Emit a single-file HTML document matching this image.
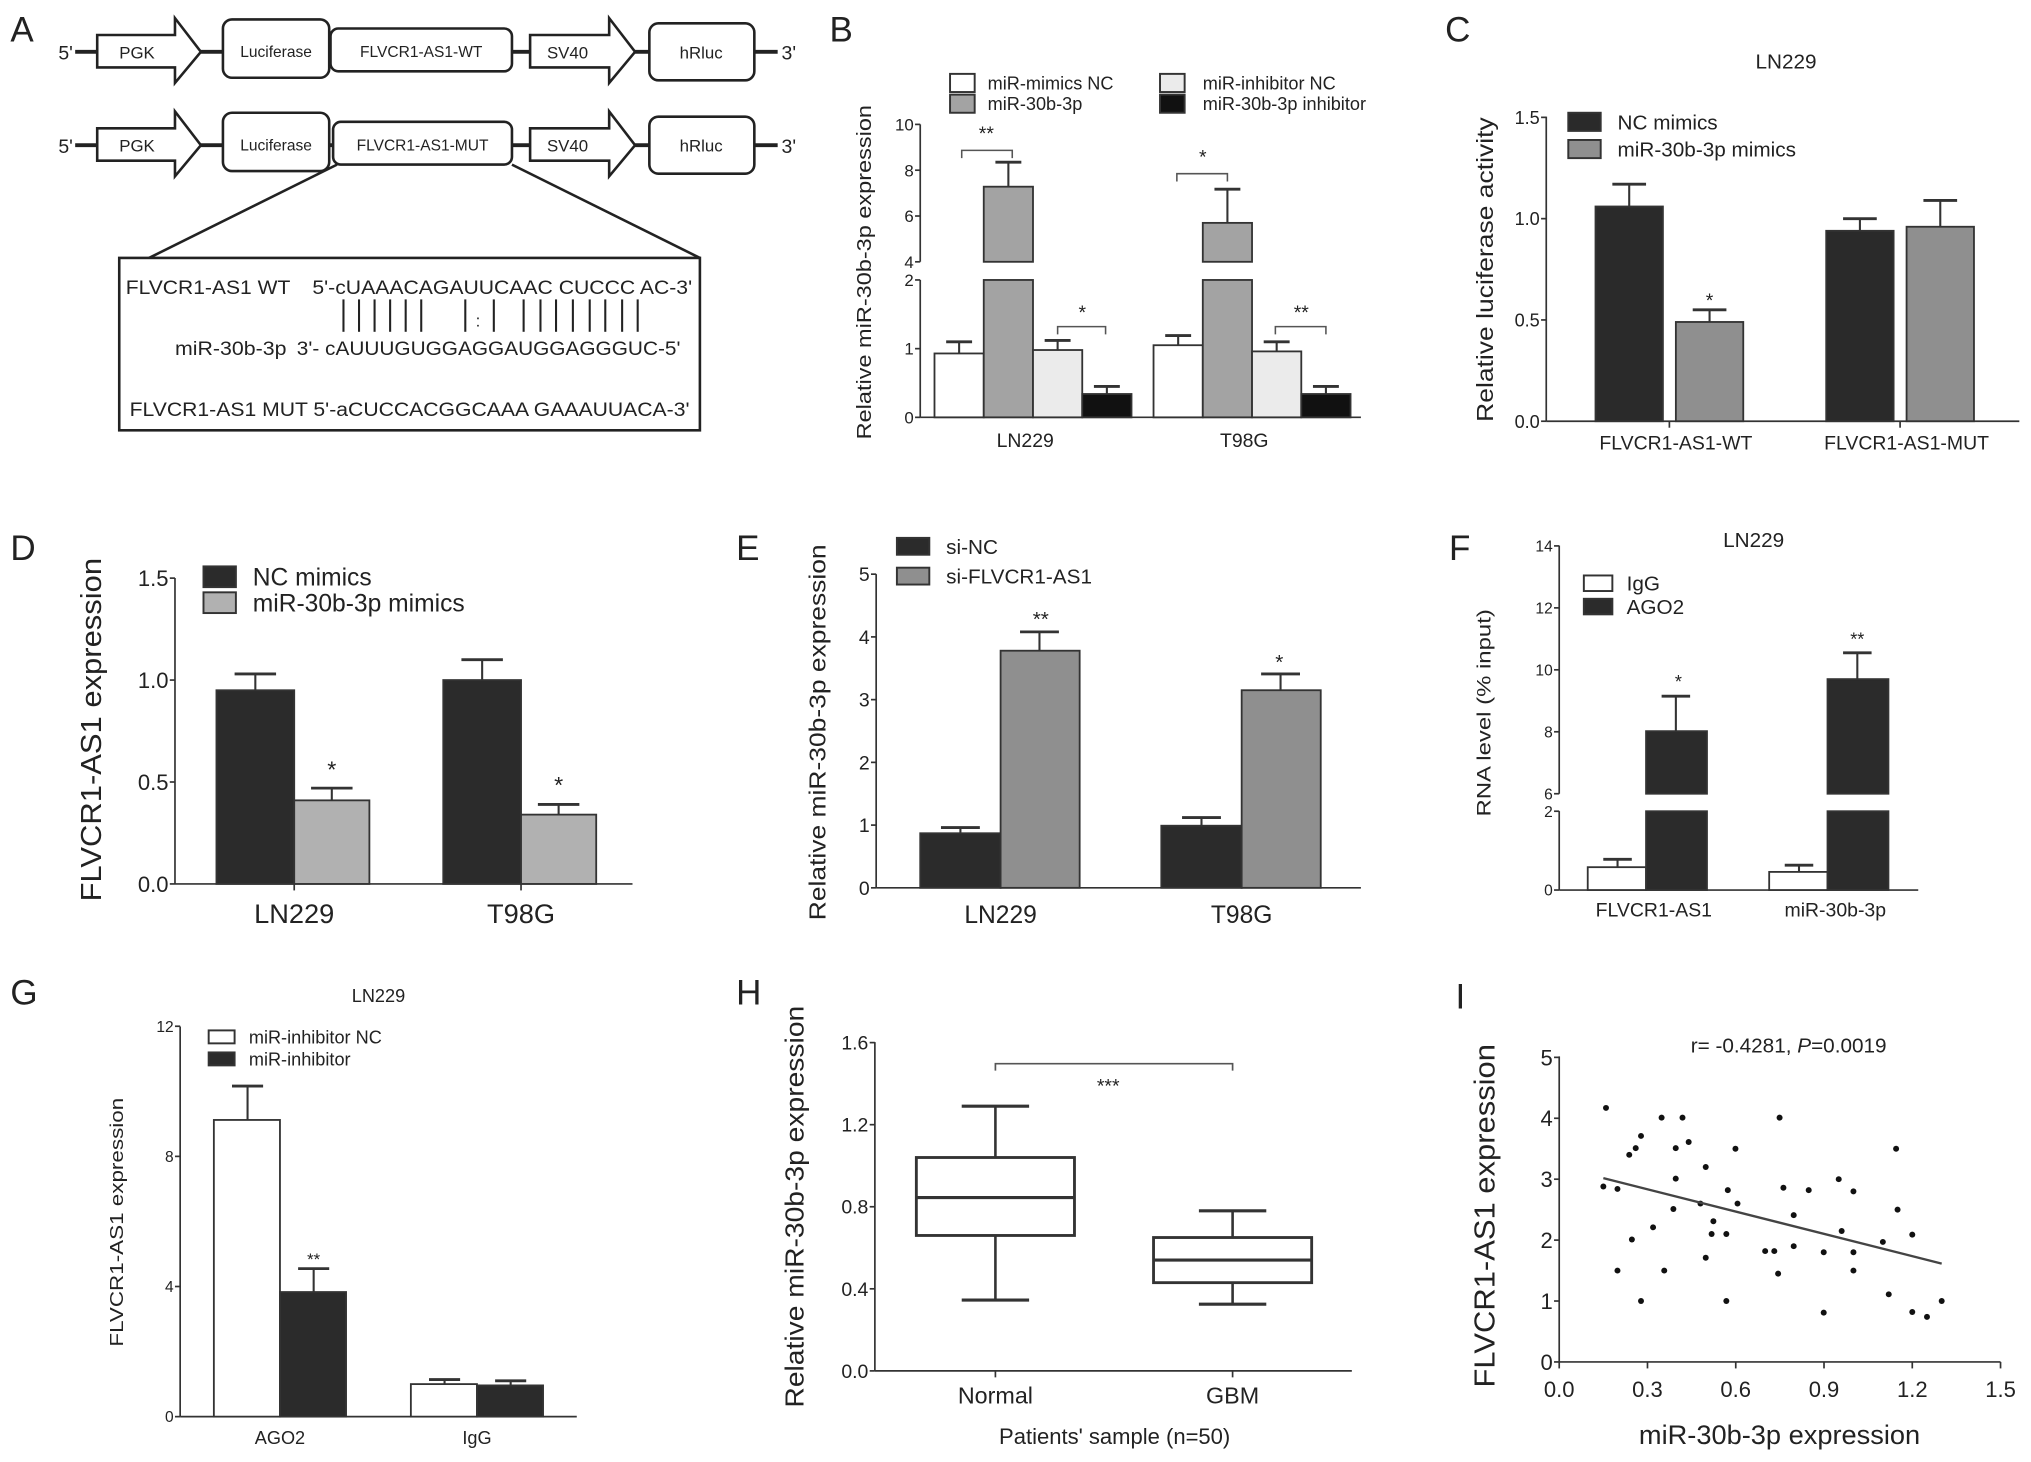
<!DOCTYPE html>
<html><head><meta charset="utf-8">
<style>
html,body{margin:0;padding:0;background:#fff;}
svg{display:block;}
text{font-family:"Liberation Sans",Arial,sans-serif;fill:#222;}
</style></head>
<body>
<svg id="fig" xmlns="http://www.w3.org/2000/svg" width="2031" height="1462" viewBox="0 0 1567 1128" preserveAspectRatio="none">
<rect x="0" y="0" width="1567" height="1128" fill="#fff"/>
<!-- Panel A -->
<g stroke="#222" fill="#fff">
  <text x="8" y="32" font-size="27" stroke="none" fill="#111">A</text>
  <g>
    <text x="45" y="46" font-size="15" stroke="none" fill="#333">5'</text>
    <line x1="58" y1="40" x2="600" y2="40" stroke-width="3"/>
    <path d="M75,27 L135,27 L135,14 L155,40 L135,64 L135,52 L75,52 Z" stroke-width="2"/>
    <text x="92" y="45" font-size="13" stroke="none" fill="#666">PGK</text>
    <rect x="172" y="15" width="82" height="45" rx="7" stroke-width="2"/>
    <text x="213" y="44" font-size="12" text-anchor="middle" stroke="none" fill="#666">Luciferase</text>
    <rect x="255" y="22" width="140" height="33" rx="6" stroke-width="2"/>
    <text x="325" y="44" font-size="12" text-anchor="middle" stroke="none" fill="#666">FLVCR1-AS1-WT</text>
    <path d="M409,27 L470,27 L470,14 L490,40 L470,64 L470,52 L409,52 Z" stroke-width="2"/>
    <text x="422" y="45" font-size="13" stroke="none" fill="#666">SV40</text>
    <rect x="501" y="18" width="81" height="44" rx="7" stroke-width="2"/>
    <text x="541" y="45" font-size="13" text-anchor="middle" stroke="none" fill="#666">hRluc</text>
    <text x="603" y="46" font-size="15" stroke="none" fill="#333">3'</text>
  </g>
  <g transform="translate(0,72)">
    <text x="45" y="46" font-size="15" stroke="none" fill="#333">5'</text>
    <line x1="58" y1="40" x2="600" y2="40" stroke-width="3"/>
    <path d="M75,27 L135,27 L135,14 L155,40 L135,64 L135,52 L75,52 Z" stroke-width="2"/>
    <text x="92" y="45" font-size="13" stroke="none" fill="#666">PGK</text>
    <rect x="172" y="15" width="82" height="45" rx="7" stroke-width="2"/>
    <text x="213" y="44" font-size="12" text-anchor="middle" stroke="none" fill="#666">Luciferase</text>
    <rect x="257" y="22" width="138" height="33" rx="6" stroke-width="2"/>
    <text x="326" y="44" font-size="12" text-anchor="middle" stroke="none" fill="#666">FLVCR1-AS1-MUT</text>
    <path d="M409,27 L470,27 L470,14 L490,40 L470,64 L470,52 L409,52 Z" stroke-width="2"/>
    <text x="422" y="45" font-size="13" stroke="none" fill="#666">SV40</text>
    <rect x="501" y="18" width="81" height="44" rx="7" stroke-width="2"/>
    <text x="541" y="45" font-size="13" text-anchor="middle" stroke="none" fill="#666">hRluc</text>
    <text x="603" y="46" font-size="15" stroke="none" fill="#333">3'</text>
  </g>
  <line x1="260" y1="127" x2="115" y2="199" stroke-width="2"/>
  <line x1="395" y1="127" x2="540" y2="199" stroke-width="2"/>
  <rect x="92" y="199" width="448" height="133" stroke-width="2"/>
  <g stroke="none" fill="#222" font-size="15">
    <text x="97" y="227" textLength="127" lengthAdjust="spacingAndGlyphs">FLVCR1-AS1 WT</text>
    <text x="241" y="227" textLength="293" lengthAdjust="spacingAndGlyphs">5'-cUAAACAGAUUCAAC CUCCC AC-3'</text>
    <text x="135" y="274" textLength="86" lengthAdjust="spacingAndGlyphs">miR-30b-3p</text>
    <text x="229" y="274" textLength="296" lengthAdjust="spacingAndGlyphs">3'- cAUUUGUGGAGGAUGGAGGGUC-5'</text>
    <text x="100" y="321" textLength="432" lengthAdjust="spacingAndGlyphs">FLVCR1-AS1 MUT 5'-aCUCCACGGCAAA GAAAUUACA-3'</text>
    <text x="367" y="252" font-size="13">:</text>
  </g>
  <g stroke-width="1.6">
    <line x1="265" y1="231" x2="265" y2="256"/><line x1="277" y1="231" x2="277" y2="256"/>
    <line x1="289" y1="231" x2="289" y2="256"/><line x1="301" y1="231" x2="301" y2="256"/>
    <line x1="313" y1="231" x2="313" y2="256"/><line x1="325" y1="231" x2="325" y2="256"/>
    <line x1="359" y1="231" x2="359" y2="256"/><line x1="381" y1="231" x2="381" y2="256"/>
    <line x1="404" y1="231" x2="404" y2="256"/><line x1="417" y1="231" x2="417" y2="256"/>
    <line x1="429" y1="231" x2="429" y2="256"/><line x1="442" y1="231" x2="442" y2="256"/>
    <line x1="455" y1="231" x2="455" y2="256"/><line x1="467" y1="231" x2="467" y2="256"/>
    <line x1="480" y1="231" x2="480" y2="256"/><line x1="492" y1="231" x2="492" y2="256"/>
  </g>
</g>
<g id="charts"></g>
</svg>
<script>
// ---------- DATA ----------
const bCategories = ['LN229', 'T98G'];
const bSeriesNames = ['miR-mimics NC', 'miR-30b-3p', 'miR-inhibitor NC', 'miR-30b-3p inhibitor'];
const bMimicsNC = [0.93, 1.05];
const bMimicsNCErr = [0.17, 0.14];
const bMimic = [7.28, 5.7];
const bMimicErr = [1.07, 1.47];
const bInhNC = [0.98, 0.96];
const bInhNCErr = [0.14, 0.14];
const bInh = [0.34, 0.34];
const bInhErr = [0.11, 0.11];
const bLowTicks = [0, 1, 2];
const bHighTicks = [4, 6, 8, 10];

const cCategories = ['FLVCR1-AS1-WT', 'FLVCR1-AS1-MUT'];
const cNC = [1.06, 0.94];
const cNCErr = [0.11, 0.06];
const cMimic = [0.49, 0.96];
const cMimicErr = [0.06, 0.13];
const cTicks = [0, 0.5, 1.0, 1.5];
const cTickLabels = ['0.0', '0.5', '1.0', '1.5'];

const dCategories = ['LN229', 'T98G'];
const dNC = [0.95, 1.0];
const dNCErr = [0.08, 0.1];
const dMimic = [0.41, 0.34];
const dMimicErr = [0.06, 0.05];
const dTicks = [0, 0.5, 1.0, 1.5];
const dTickLabels = ['0.0', '0.5', '1.0', '1.5'];

const eCategories = ['LN229', 'T98G'];
const eSiNC = [0.87, 0.99];
const eSiNCErr = [0.09, 0.13];
const eSiF = [3.78, 3.15];
const eSiFErr = [0.3, 0.26];
const eTicks = [0, 1, 2, 3, 4, 5];

const fCategories = ['FLVCR1-AS1', 'miR-30b-3p'];
const fIgG = [0.58, 0.46];
const fIgGErr = [0.2, 0.17];
const fAGO2 = [8.02, 9.7];
const fAGO2Err = [1.13, 0.85];
const fLowTicks = [0, 2];
const fHighTicks = [6, 8, 10, 12, 14];

const gCategories = ['AGO2', 'IgG'];
const gInhNC = [9.12, 1.0];
const gInhNCErr = [1.04, 0.14];
const gInh = [3.83, 0.96];
const gInhErr = [0.72, 0.14];
const gTicks = [0, 4, 8, 12];

const hCategories = ['Normal', 'GBM'];
const hMin = [0.345, 0.325];
const hQ1 = [0.66, 0.43];
const hMedian = [0.845, 0.54];
const hQ3 = [1.04, 0.65];
const hMax = [1.29, 0.78];
const hTicks = [0, 0.4, 0.8, 1.2, 1.6];
const hTickLabels = ['0.0', '0.4', '0.8', '1.2', '1.6'];

const iX = [0.159,0.15,0.198,0.238,0.26,0.278,0.247,0.198,0.278,0.319,0.348,0.357,0.419,0.44,0.396,0.396,0.388,0.48,0.498,0.498,0.518,0.524,0.568,0.568,0.573,0.599,0.606,0.70,0.731,0.744,0.749,0.762,0.797,0.797,0.848,0.899,0.899,0.95,0.96,1.0,1.0,1.0,1.10,1.12,1.145,1.15,1.20,1.20,1.25,1.30];
const iY = [4.17,2.88,2.84,3.40,3.51,3.71,2.01,1.50,1.0,2.21,4.01,1.50,4.01,3.61,3.51,3.01,2.51,2.6,3.2,1.71,2.1,2.31,2.1,1.0,2.82,3.5,2.6,1.82,1.82,1.45,4.01,2.86,2.41,1.9,2.82,1.80,0.81,3.0,2.15,2.8,1.8,1.5,1.97,1.11,3.5,2.5,2.09,0.82,0.74,1.0];
const iXTicks = [0, 0.3, 0.6, 0.9, 1.2, 1.5];
const iXTickLabels = ['0.0', '0.3', '0.6', '0.9', '1.2', '1.5'];
const iYTicks = [0, 1, 2, 3, 4, 5];

// ---------- HELPERS ----------
const NS = 'http://www.w3.org/2000/svg';
const root = document.getElementById('charts');
function E(tag, a, p) {
  const e = document.createElementNS(NS, tag);
  for (const k in a) e.setAttribute(k, a[k]);
  (p || root).appendChild(e);
  return e;
}
function T(txt, x, y, size, anchor, p, extra) {
  const e = E('text', Object.assign({x: x, y: y, 'font-size': size, 'text-anchor': anchor || 'start'}, extra || {}), p);
  e.textContent = txt;
  return e;
}
function group(name) {
  const g = E('g', {});
  
  
  return g;
}
function line(x1, y1, x2, y2, p, w, c) {
  return E('line', {x1: x1, y1: y1, x2: x2, y2: y2, stroke: c || '#333', 'stroke-width': w || 1.3}, p);
}
function yTick(p, ax, y, label, size) {
  line(ax - 4, y, ax, y, p);
  const t = T(label, ax - 5, y + size * 0.36, size, 'end', p, {fill: '#444'});
  
  
}
function yTitle(p, txt, cx, cy, size, len) {
  const t = T(txt, cx, cy, size, 'middle', p, {transform: 'rotate(-90 ' + cx + ' ' + cy + ')', textLength: len, lengthAdjust: 'spacingAndGlyphs', fill: '#333'});
  
  
}
function bar(p, x, w, yTop, yBot, fill, name) {
  const r = E('rect', {x: x, y: Math.min(yTop, yBot), width: w, height: Math.abs(yBot - yTop), fill: fill, stroke: '#333', 'stroke-width': 1.4}, p);
  
  
  return r;
}
function errBar(p, cx, yTop, yErr, capW, name) {
  const g = E('g', {}, p);
  
  
  line(cx, yTop, cx, yErr, g, 1.6);
  line(cx - capW / 2, yErr, cx + capW / 2, yErr, g, 2.2);
}
function legendEntry(p, x, y, w, h, fill, label, size, tx) {
  const g = E('g', {}, p);
  
  
  E('rect', {x: x, y: y, width: w, height: h, fill: fill, stroke: '#333', 'stroke-width': 1.5}, g);
  T(label, tx, y + h / 2 + size * 0.36, size, 'start', g, {fill: '#333'});
}
function star(p, txt, x, y, size) {
  const t = T(txt, x, y, size, 'middle', p, {fill: '#444'});
  
  
}
function bracket(p, x1, x2, y) {
  const pth = E('path', {d: 'M' + x1 + ',' + (y + 6) + ' L' + x1 + ',' + y + ' L' + x2 + ',' + y + ' L' + x2 + ',' + (y + 6), fill: 'none', stroke: '#555', 'stroke-width': 1.2}, p);
  
  
}
function panelLabel(txt, x, y) {
  const t = T(txt, x, y, 27, 'start', root, {fill: '#111'});
  
  
}

// ---------- PANEL B ----------
(function () {
  const p = group('panel-b');
  panelLabel('B', 640, 32);
  const ax = 710, y0 = 322;
  const yLow = v => y0 - v * 53;
  const yHigh = v => 202 - (v - 4) * 17.67;
  const yS = v => (v <= 3 ? yLow(v) : yHigh(v));
  line(ax, 96, ax, 202, p); line(ax, 216, ax, y0, p);
  line(ax, y0, 1050, y0, p);
  bLowTicks.forEach(v => yTick(p, ax, yLow(v), String(v), 13));
  bHighTicks.forEach(v => yTick(p, ax, yHigh(v), String(v), 13));
  yTitle(p, 'Relative miR-30b-3p expression', 672, 210, 16, 258);
  const series = [bMimicsNC, bMimic, bInhNC, bInh];
  const errs = [bMimicsNCErr, bMimicErr, bInhNCErr, bInhErr];
  const fills = ['#ffffff', '#a3a3a3', '#ebebeb', '#111111'];
  const centers = [797, 966];
  const w = 38;
  bCategories.forEach((cat, ci) => {
    series.forEach((s, si) => {
      const x = centers[ci] + (si - 2) * w;
      const v = s[ci];
      if (v > 2) {
        bar(p, x, w, yLow(2), y0, fills[si], 'bar-' + cat.toLowerCase() + '-s' + si + '-lower');
        bar(p, x, w, yHigh(v), yHigh(4), fills[si], 'bar-' + cat.toLowerCase() + '-s' + si + '-upper');
      } else {
        bar(p, x, w, yLow(v), y0, fills[si], 'bar-' + cat.toLowerCase() + '-s' + si);
      }
      errBar(p, x + w / 2, yS(v), yS(v + errs[si][ci]), 20, 'error-bar');
    });
    const lbl = T(cat, centers[ci] - 6, 345, 15, 'middle', p, {fill: '#222'});
    
    
  });
  bracket(p, 742, 781, 116); star(p, '**', 761, 108, 15);
  bracket(p, 816, 853, 252); star(p, '*', 835, 246, 15);
  bracket(p, 908, 947, 134); star(p, '*', 928, 126, 15);
  bracket(p, 984, 1023, 252); star(p, '**', 1004, 246, 15);
  legendEntry(p, 733, 57, 19, 14, fills[0], bSeriesNames[0], 14, 762);
  legendEntry(p, 733, 73, 19, 14, fills[1], bSeriesNames[1], 14, 762);
  legendEntry(p, 895, 57, 19, 14, fills[2], bSeriesNames[2], 14, 928);
  legendEntry(p, 895, 73, 19, 14, fills[3], bSeriesNames[3], 14, 928);
})();

// ---------- PANEL C ----------
(function () {
  const p = group('panel-c');
  panelLabel('C', 1115, 32);
  const ax = 1193, y0 = 325;
  const yS = v => y0 - v * 156.3;
  line(ax, 90, ax, y0, p); line(ax, y0, 1558, y0, p);
  cTicks.forEach((v, i) => yTick(p, ax, yS(v), cTickLabels[i], 14));
  yTitle(p, 'Relative luciferase activity', 1152, 208, 18, 235);
  const t = T('LN229', 1378, 53, 16, 'middle', p, {fill: '#333'});
  
  
  const centers = [1288, 1466];
  cCategories.forEach((cat, ci) => {
    const c = centers[ci];
    bar(p, c - 57, 52, yS(cNC[ci]), y0, '#2a2a2a', 'bar-nc-mimics-' + ci);
    errBar(p, c - 31, yS(cNC[ci]), yS(cNC[ci] + cNCErr[ci]), 26, 'error-bar');
    bar(p, c + 5, 52, yS(cMimic[ci]), y0, '#8f8f8f', 'bar-mir-mimics-' + ci);
    errBar(p, c + 31, yS(cMimic[ci]), yS(cMimic[ci] + cMimicErr[ci]), 26, 'error-bar');
    line(c, y0, c, y0 + 5, p);
    const l = T(cat, c + 5, 347, 15, 'middle', p, {fill: '#222'});
    
    
  });
  star(p, '*', 1319, 237, 15);
  legendEntry(p, 1210, 87, 25, 14, '#2a2a2a', 'NC mimics', 16, 1248);
  legendEntry(p, 1210, 108, 25, 14, '#8f8f8f', 'miR-30b-3p mimics', 16, 1248);
})();

// ---------- PANEL D ----------
(function () {
  const p = group('panel-d');
  panelLabel('D', 8, 432);
  const ax = 135, y0 = 682;
  const yS = v => y0 - v * 157.3;
  line(ax, 446, ax, y0, p); line(ax, y0, 488, y0, p);
  dTicks.forEach((v, i) => yTick(p, ax, yS(v), dTickLabels[i], 17));
  yTitle(p, 'FLVCR1-AS1 expression', 78, 563, 22, 265);
  const centers = [227, 402];
  dCategories.forEach((cat, ci) => {
    const c = centers[ci];
    bar(p, c - 60, 60, yS(dNC[ci]), y0, '#2b2b2b', 'bar-nc-mimics-' + cat.toLowerCase());
    errBar(p, c - 30, yS(dNC[ci]), yS(dNC[ci] + dNCErr[ci]), 32, 'error-bar');
    bar(p, c, 58, yS(dMimic[ci]), y0, '#b1b1b1', 'bar-mir-mimics-' + cat.toLowerCase());
    errBar(p, c + 29, yS(dMimic[ci]), yS(dMimic[ci] + dMimicErr[ci]), 32, 'error-bar');
    line(c, y0, c, y0 + 5, p);
    const l = T(cat, c, 712, 21, 'middle', p, {fill: '#222'});
    
    
  });
  star(p, '*', 256, 600, 18); star(p, '*', 431, 612, 18);
  legendEntry(p, 157, 437, 25, 16, '#2b2b2b', 'NC mimics', 19, 195);
  legendEntry(p, 157, 457, 25, 16, '#b1b1b1', 'miR-30b-3p mimics', 19, 195);
})();

// ---------- PANEL E ----------
(function () {
  const p = group('panel-e');
  panelLabel('E', 568, 432);
  const ax = 676, y0 = 685;
  const yS = v => y0 - v * 48.4;
  line(ax, 443, ax, y0, p); line(ax, y0, 1050, y0, p);
  eTicks.forEach(v => yTick(p, ax, yS(v), String(v), 15));
  yTitle(p, 'Relative miR-30b-3p expression', 637, 565, 18, 290);
  const centers = [772, 958];
  eCategories.forEach((cat, ci) => {
    const c = centers[ci];
    bar(p, c - 62, 62, yS(eSiNC[ci]), y0, '#2b2b2b', 'bar-si-nc-' + cat.toLowerCase());
    errBar(p, c - 31, yS(eSiNC[ci]), yS(eSiNC[ci] + eSiNCErr[ci]), 30, 'error-bar');
    bar(p, c, 61, yS(eSiF[ci]), y0, '#8f8f8f', 'bar-si-flvcr1-' + cat.toLowerCase());
    errBar(p, c + 30, yS(eSiF[ci]), yS(eSiF[ci] + eSiFErr[ci]), 30, 'error-bar');
    const l = T(cat, c, 712, 19, 'middle', p, {fill: '#222'});
    
    
  });
  star(p, '**', 803, 483, 16); star(p, '*', 987, 516, 16);
  legendEntry(p, 692, 415, 25, 13, '#2b2b2b', 'si-NC', 16, 730);
  legendEntry(p, 692, 438, 25, 13, '#8f8f8f', 'si-FLVCR1-AS1', 16, 730);
})();

// ---------- PANEL F ----------
(function () {
  const p = group('panel-f');
  panelLabel('F', 1118, 432);
  const ax = 1203;
  const yLow = v => 686.7 - v * 30.4;
  const yHigh = v => 612.4 - (v - 6) * 23.9;
  const yS = v => (v <= 4 ? yLow(v) : yHigh(v));
  line(ax, 421, ax, 612.4, p); line(ax, 625.8, ax, 686.7, p);
  line(ax, 686.7, 1480, 686.7, p);
  fLowTicks.forEach(v => yTick(p, ax, yLow(v), String(v), 12));
  fHighTicks.forEach(v => yTick(p, ax, yHigh(v), String(v), 12));
  yTitle(p, 'RNA level (% input)', 1150, 550, 15, 160);
  const t = T('LN229', 1353, 422, 16, 'middle', p, {fill: '#333'});
  
  
  const centers = [1270, 1410];
  fCategories.forEach((cat, ci) => {
    const c = centers[ci];
    bar(p, c - 45, 45, yS(fIgG[ci]), 686.7, '#ffffff', 'bar-igg-' + ci);
    errBar(p, c - 22, yS(fIgG[ci]), yS(fIgG[ci] + fIgGErr[ci]), 22, 'error-bar');
    const v = fAGO2[ci];
    bar(p, c, 47, yLow(2), 686.7, '#2b2b2b', 'bar-ago2-lower-' + ci);
    bar(p, c, 47, yHigh(v), yHigh(6), '#2b2b2b', 'bar-ago2-upper-' + ci);
    errBar(p, c + 23, yHigh(v), yHigh(v + fAGO2Err[ci]), 22, 'error-bar');
    const l = T(cat, c + 6, 707, 15, 'middle', p, {fill: '#222'});
    
    
  });
  star(p, '*', 1295, 531, 14); star(p, '**', 1433, 498, 14);
  legendEntry(p, 1222, 444, 22, 12, '#ffffff', 'IgG', 16, 1255);
  legendEntry(p, 1222, 462, 22, 12, '#2b2b2b', 'AGO2', 16, 1255);
})();

// ---------- PANEL G ----------
(function () {
  const p = group('panel-g');
  panelLabel('G', 8, 775);
  const ax = 139, y0 = 1093;
  const yS = v => y0 - v * 25.1;
  line(ax, 792, ax, y0, p); line(ax, y0, 445, y0, p);
  gTicks.forEach(v => yTick(p, ax, yS(v), String(v), 12));
  yTitle(p, 'FLVCR1-AS1 expression', 95, 943, 14, 192);
  const t = T('LN229', 292, 773, 14, 'middle', p, {fill: '#333'});
  
  
  const centers = [216, 368];
  gCategories.forEach((cat, ci) => {
    const c = centers[ci];
    bar(p, c - 51, 51, yS(gInhNC[ci]), y0, '#ffffff', 'bar-inhibitor-nc-' + cat.toLowerCase());
    errBar(p, c - 25, yS(gInhNC[ci]), yS(gInhNC[ci] + gInhNCErr[ci]), 24, 'error-bar');
    bar(p, c, 51, yS(gInh[ci]), y0, '#2b2b2b', 'bar-inhibitor-' + cat.toLowerCase());
    errBar(p, c + 26, yS(gInh[ci]), yS(gInh[ci] + gInhErr[ci]), 24, 'error-bar');
    const l = T(cat, c, 1114, 14, 'middle', p, {fill: '#222'});
    
    
  });
  star(p, '**', 242, 976, 13);
  legendEntry(p, 161, 795, 20, 10, '#ffffff', 'miR-inhibitor NC', 14, 192);
  legendEntry(p, 161, 812, 20, 10, '#2b2b2b', 'miR-inhibitor', 14, 192);
})();

// ---------- PANEL H ----------
(function () {
  const p = group('panel-h');
  panelLabel('H', 568, 775);
  const ax = 675, y0 = 1057.7;
  const yS = v => y0 - v * 158.3;
  line(ax, 804, ax, y0, p); line(ax, y0, 1043, y0, p);
  hTicks.forEach((v, i) => yTick(p, ax, yS(v), hTickLabels[i], 15));
  yTitle(p, 'Relative miR-30b-3p expression', 620, 931, 20, 310);
  const centers = [768, 951];
  hCategories.forEach((cat, ci) => {
    const c = centers[ci];
    const g = E('g', {}, p);
    
    
    line(c, yS(hMax[ci]), c, yS(hQ3[ci]), g, 2);
    line(c, yS(hQ1[ci]), c, yS(hMin[ci]), g, 2);
    line(c - 26, yS(hMax[ci]), c + 26, yS(hMax[ci]), g, 2.4);
    line(c - 26, yS(hMin[ci]), c + 26, yS(hMin[ci]), g, 2.4);
    E('rect', {x: c - 61, y: yS(hQ3[ci]), width: 122, height: yS(hQ1[ci]) - yS(hQ3[ci]), fill: '#fff', stroke: '#333', 'stroke-width': 2.2}, g);
    line(c - 61, yS(hMedian[ci]), c + 61, yS(hMedian[ci]), g, 2.4);
    line(c, y0, c, y0 + 5, p);
    const l = T(cat, c, 1083, 18, 'middle', p, {fill: '#222'});
    
    
  });
  const br = E('path', {d: 'M768,826 L768,820.7 L951,820.7 L951,826', fill: 'none', stroke: '#555', 'stroke-width': 1.3}, p);
  
  
  star(p, '***', 855, 843, 15);
  const xt = T("Patients' sample (n=50)", 860, 1114, 17, 'middle', p, {fill: '#222'});
  
  
})();

// ---------- PANEL I ----------
(function () {
  const p = group('panel-i');
  panelLabel('I', 1123, 778);
  const ax = 1203, y0 = 1050.8;
  const xS = v => ax + v * 227;
  const yS = v => y0 - v * 47;
  line(ax, 815, ax, y0, p); line(ax, y0, xS(1.5), y0, p);
  iYTicks.forEach(v => yTick(p, ax, yS(v), String(v), 17));
  iXTicks.forEach((v, i) => {
    line(xS(v), y0, xS(v), y0 + 5, p);
    const l = T(iXTickLabels[i], xS(v), 1078, 17, 'middle', p, {fill: '#444'});
    
    
  });
  yTitle(p, 'FLVCR1-AS1 expression', 1153, 938, 22, 265);
  const xt = T('miR-30b-3p expression', 1373, 1114, 21, 'middle', p, {fill: '#222'});
  
  
  const tt = E('text', {x: 1380, y: 812, 'font-size': 16, 'text-anchor': 'middle', fill: '#333'}, p);
  tt.innerHTML = 'r= -0.4281, <tspan font-style="italic">P</tspan>=0.0019';
  
  
  iX.forEach((xv, k) => {
    const d = E('circle', {cx: xS(xv), cy: yS(iY[k]), r: 2.3, fill: '#111'}, p);
    
    
  });
  const n = iX.length;
  const mx = iX.reduce((a, b) => a + b, 0) / n;
  const my = iY.reduce((a, b) => a + b, 0) / n;
  let sxy = 0, sxx = 0;
  iX.forEach((xv, k) => { sxy += (xv - mx) * (iY[k] - my); sxx += (xv - mx) * (xv - mx); });
  const slope = sxy / sxx, icpt = my - slope * mx;
  const xmin = Math.min.apply(null, iX), xmax = Math.max.apply(null, iX);
  const rl = line(xS(xmin), yS(icpt + slope * xmin), xS(xmax), yS(icpt + slope * xmax), p, 1.8, '#444');
  
  
})();
</script>
</body></html>
